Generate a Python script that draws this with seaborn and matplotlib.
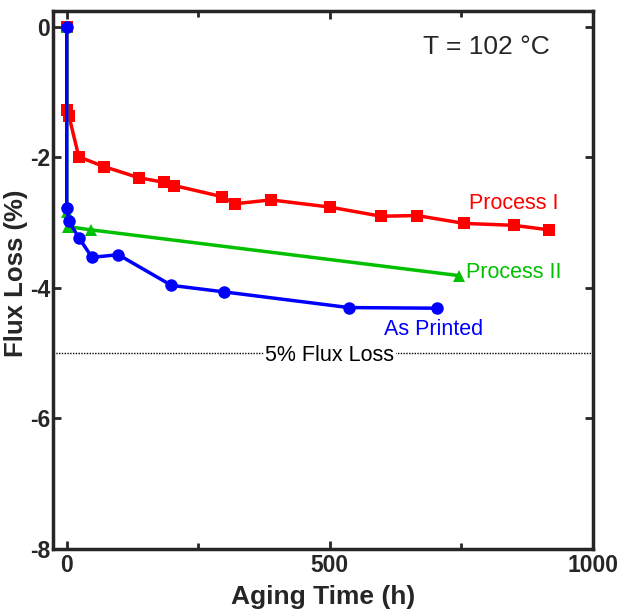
import matplotlib
matplotlib.use("Agg")
import matplotlib.pyplot as plt
import seaborn as sns
import pandas as pd
from matplotlib.ticker import MultipleLocator

sns.set_style("ticks")
plt.rcParams['font.family'] = ['Liberation Sans', 'DejaVu Sans']
plt.rcParams['axes.unicode_minus'] = False

p1_time = [0, 0, 4, 23, 71, 137, 184, 204, 295, 319, 388, 500, 597, 666, 755, 850, 917]
p1_loss = [0, -1.27, -1.36, -1.99, -2.14, -2.31, -2.38, -2.43, -2.60, -2.71, -2.65, -2.76, -2.90, -2.89, -3.01, -3.04, -3.11]

p2_time = [0, 0, 3, 47, 745]
p2_loss = [0, -2.84, -3.06, -3.11, -3.81]

ap_time = [0, 0, 4, 23, 48, 98, 199, 299, 536, 704]
ap_loss = [0, -2.77, -2.98, -3.23, -3.53, -3.49, -3.96, -4.06, -4.30, -4.31]

df1 = pd.DataFrame({"t": p1_time, "v": p1_loss})
df2 = pd.DataFrame({"t": p2_time, "v": p2_loss})
df3 = pd.DataFrame({"t": ap_time, "v": ap_loss})

fig = plt.figure(figsize=(6.17, 6.12), dpi=100)
ax = fig.add_axes([0.086, 0.103, 0.875, 0.879])

ax.axhline(-5, color="black", lw=1, ls=(0, (1, 1)), zorder=1)

sns.lineplot(data=df1, x="t", y="v", ax=ax, color="#ff0000", marker="s", markersize=9,
             markeredgewidth=0, lw=2.5, sort=False, estimator=None, zorder=3)
sns.lineplot(data=df2, x="t", y="v", ax=ax, color="#00c000", marker="^", markersize=9,
             markeredgewidth=0, lw=2.5, sort=False, estimator=None, zorder=3)
sns.lineplot(data=df3, x="t", y="v", ax=ax, color="#0000ff", marker="o", markersize=9,
             markeredgewidth=0, lw=2.5, sort=False, estimator=None, zorder=4)

ax.set_xlim(-26, 1000)
ax.set_ylim(-8.0, 0.245)
ax.xaxis.set_major_locator(MultipleLocator(500))
ax.xaxis.set_minor_locator(MultipleLocator(250))
ax.yaxis.set_major_locator(MultipleLocator(2))
ax.tick_params(which="both", direction="in", top=True, right=True, width=2)
ax.tick_params(which="major", length=6, labelsize=16.5)
ax.tick_params(which="minor", length=4)
ax.tick_params(axis="y", pad=2)
for lab in ax.get_xticklabels() + ax.get_yticklabels():
    lab.set_fontweight("bold")
for s in ax.spines.values():
    s.set_linewidth(2.5)
    s.set_visible(True)

ax.set_xlabel("Aging Time (h)", fontsize=19, fontweight="bold", labelpad=6)
ax.set_ylabel("Flux Loss (%)", fontsize=18.5, fontweight="bold")
ax.yaxis.set_label_coords(-0.047, 0.513)

ax.text(0.92, 0.955, "T = 102 °C", transform=ax.transAxes, ha="right", va="top", fontsize=19)
ax.text(850, -2.71, "Process I", color="#ff0000", ha="center", va="center", fontsize=15.5)
ax.text(850, -3.77, "Process II", color="#00c000", ha="center", va="center", fontsize=15.5)
ax.text(698, -4.64, "As Printed", color="#0000ff", ha="center", va="center", fontsize=15.5)
ax.text(500, -5.03, "5% Flux Loss", color="black", ha="center", va="center", fontsize=15.5,
        bbox=dict(facecolor="white", edgecolor="none", pad=1), zorder=2)

ax.set_facecolor("white")
fig.savefig("out.png", dpi=100)
